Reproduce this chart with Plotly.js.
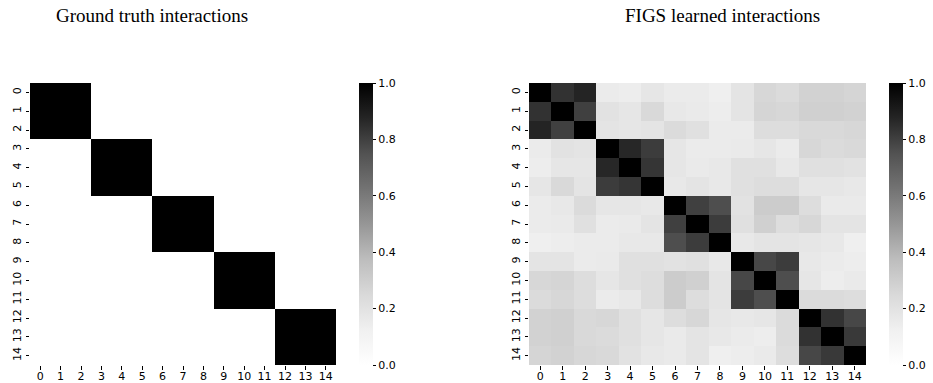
<!DOCTYPE html>
<html>
<head>
<meta charset="utf-8">
<script src="https://cdn.plot.ly/plotly-3.0.1.min.js"></script>
<style>html,body{margin:0;padding:0;background:#fff;}#chart{width:933px;height:383px;}</style>
</head>
<body>
<div id="chart"></div>
<script>
const features = ["0","1","2","3","4","5","6","7","8","9","10","11","12","13","14"];
const colorbarTicks = [0, 0.2, 0.4, 0.6, 0.8, 1.0];
const colorbarTickText = ["0.0", "0.2", "0.4", "0.6", "0.8", "1.0"];
const titleLeft = "Ground truth interactions";
const titleRight = "FIGS learned interactions";

const groundTruth = [
  [1,1,1,0,0,0,0,0,0,0,0,0,0,0,0],
  [1,1,1,0,0,0,0,0,0,0,0,0,0,0,0],
  [1,1,1,0,0,0,0,0,0,0,0,0,0,0,0],
  [0,0,0,1,1,1,0,0,0,0,0,0,0,0,0],
  [0,0,0,1,1,1,0,0,0,0,0,0,0,0,0],
  [0,0,0,1,1,1,0,0,0,0,0,0,0,0,0],
  [0,0,0,0,0,0,1,1,1,0,0,0,0,0,0],
  [0,0,0,0,0,0,1,1,1,0,0,0,0,0,0],
  [0,0,0,0,0,0,1,1,1,0,0,0,0,0,0],
  [0,0,0,0,0,0,0,0,0,1,1,1,0,0,0],
  [0,0,0,0,0,0,0,0,0,1,1,1,0,0,0],
  [0,0,0,0,0,0,0,0,0,1,1,1,0,0,0],
  [0,0,0,0,0,0,0,0,0,0,0,0,1,1,1],
  [0,0,0,0,0,0,0,0,0,0,0,0,1,1,1],
  [0,0,0,0,0,0,0,0,0,0,0,0,1,1,1]
];

const figsLearned = [
  [1.00, 0.84, 0.88, 0.15, 0.14, 0.18, 0.15, 0.15, 0.13, 0.19, 0.26, 0.24, 0.28, 0.28, 0.27],
  [0.84, 1.00, 0.80, 0.20, 0.18, 0.25, 0.17, 0.16, 0.14, 0.19, 0.27, 0.26, 0.29, 0.29, 0.28],
  [0.88, 0.80, 1.00, 0.19, 0.18, 0.19, 0.24, 0.21, 0.15, 0.15, 0.23, 0.23, 0.25, 0.25, 0.26],
  [0.15, 0.20, 0.19, 1.00, 0.87, 0.81, 0.18, 0.15, 0.15, 0.16, 0.18, 0.15, 0.26, 0.24, 0.25],
  [0.14, 0.18, 0.18, 0.87, 1.00, 0.83, 0.18, 0.16, 0.17, 0.21, 0.21, 0.17, 0.21, 0.21, 0.20],
  [0.18, 0.25, 0.19, 0.81, 0.83, 1.00, 0.17, 0.19, 0.17, 0.21, 0.23, 0.23, 0.18, 0.18, 0.17],
  [0.15, 0.17, 0.24, 0.18, 0.18, 0.17, 1.00, 0.80, 0.76, 0.20, 0.31, 0.31, 0.23, 0.16, 0.16],
  [0.15, 0.16, 0.21, 0.15, 0.16, 0.19, 0.80, 1.00, 0.81, 0.21, 0.29, 0.23, 0.26, 0.19, 0.19],
  [0.13, 0.14, 0.15, 0.15, 0.17, 0.17, 0.76, 0.81, 1.00, 0.17, 0.19, 0.19, 0.18, 0.17, 0.13],
  [0.19, 0.19, 0.15, 0.16, 0.21, 0.21, 0.20, 0.21, 0.17, 1.00, 0.78, 0.81, 0.17, 0.15, 0.14],
  [0.26, 0.27, 0.23, 0.18, 0.21, 0.23, 0.31, 0.29, 0.19, 0.78, 1.00, 0.76, 0.18, 0.14, 0.16],
  [0.24, 0.26, 0.23, 0.15, 0.17, 0.23, 0.31, 0.23, 0.19, 0.81, 0.76, 1.00, 0.24, 0.24, 0.23],
  [0.28, 0.29, 0.25, 0.26, 0.21, 0.18, 0.23, 0.26, 0.18, 0.17, 0.18, 0.24, 1.00, 0.84, 0.78],
  [0.28, 0.29, 0.25, 0.24, 0.21, 0.18, 0.16, 0.19, 0.17, 0.15, 0.14, 0.24, 0.84, 1.00, 0.82],
  [0.27, 0.28, 0.26, 0.25, 0.20, 0.17, 0.16, 0.19, 0.13, 0.14, 0.16, 0.23, 0.78, 0.82, 1.00]
];

const greys = [
  [0, "#ffffff"], [0.125, "#f0f0f0"], [0.25, "#d9d9d9"], [0.375, "#bdbdbd"],
  [0.5, "#969696"], [0.625, "#737373"], [0.75, "#525252"], [0.875, "#252525"], [1, "#000000"]
];

const W = 933, H = 383;
const plotTop = 83, plotBottom = 365;
const yDom = [(H - plotBottom) / H, (H - plotTop) / H];
const leftX = [30, 336], rightX = [529, 866];
const cbLeftX = 359, cbRightX = 889;
const tickFont = {family: "DejaVu Sans", size: 11, color: "#000"};
const titleFont = {family: "Liberation Serif", size: 19, color: "#000"};

function colorbar(xpx) {
  return {
    x: xpx / W, xanchor: "left", xpad: 0,
    y: yDom[0], yanchor: "bottom", ypad: 0,
    len: yDom[1] - yDom[0], lenmode: "fraction",
    thickness: 14, thicknessmode: "pixels",
    outlinewidth: 0,
    ticks: "outside", ticklen: 3.5, tickwidth: 1, tickcolor: "#000",
    tickvals: colorbarTicks, ticktext: colorbarTickText,
    tickfont: tickFont
  };
}

const traces = [
  {type: "heatmap", z: groundTruth, x: features, y: features, xaxis: "x", yaxis: "y",
   colorscale: greys, zmin: 0, zmax: 1, colorbar: colorbar(cbLeftX), hoverinfo: "skip"},
  {type: "heatmap", z: figsLearned, x: features, y: features, xaxis: "x2", yaxis: "y2",
   colorscale: greys, zmin: 0, zmax: 1, colorbar: colorbar(cbRightX), hoverinfo: "skip"}
];

function xAxis(dom, anchor) {
  return {domain: [dom[0] / W, dom[1] / W], anchor: anchor, type: "category",
    ticks: "outside", ticklen: 3.5, tickwidth: 1, tickcolor: "#000",
    ticklabelstandoff: -3,
    tickfont: tickFont, tickangle: 0, showgrid: false, zeroline: false, showline: false,
    fixedrange: true};
}
function yAxis(anchor) {
  return {domain: yDom, anchor: anchor, type: "category", autorange: "reversed",
    ticks: "outside", ticklen: 3.5, tickwidth: 1, tickcolor: "#000",
    tickfont: tickFont, tickangle: -90, showgrid: false, zeroline: false, showline: false,
    fixedrange: true};
}

const layout = {
  width: W, height: H,
  margin: {l: 0, r: 0, t: 0, b: 0},
  paper_bgcolor: "#fff", plot_bgcolor: "#fff",
  showlegend: false,
  xaxis: xAxis(leftX, "y"),
  yaxis: yAxis("x"),
  xaxis2: xAxis(rightX, "y2"),
  yaxis2: yAxis("x2"),
  annotations: [
    {text: titleLeft, xref: "paper", yref: "paper", x: 152 / W, y: 1 - 16 / H,
     xanchor: "center", yanchor: "middle", showarrow: false, font: titleFont},
    {text: titleRight, xref: "paper", yref: "paper", x: 722 / W, y: 1 - 16 / H,
     xanchor: "center", yanchor: "middle", showarrow: false, font: titleFont}
  ]
};

Plotly.newPlot("chart", traces, layout, {displayModeBar: false, staticPlot: true});
</script>
</body>
</html>
